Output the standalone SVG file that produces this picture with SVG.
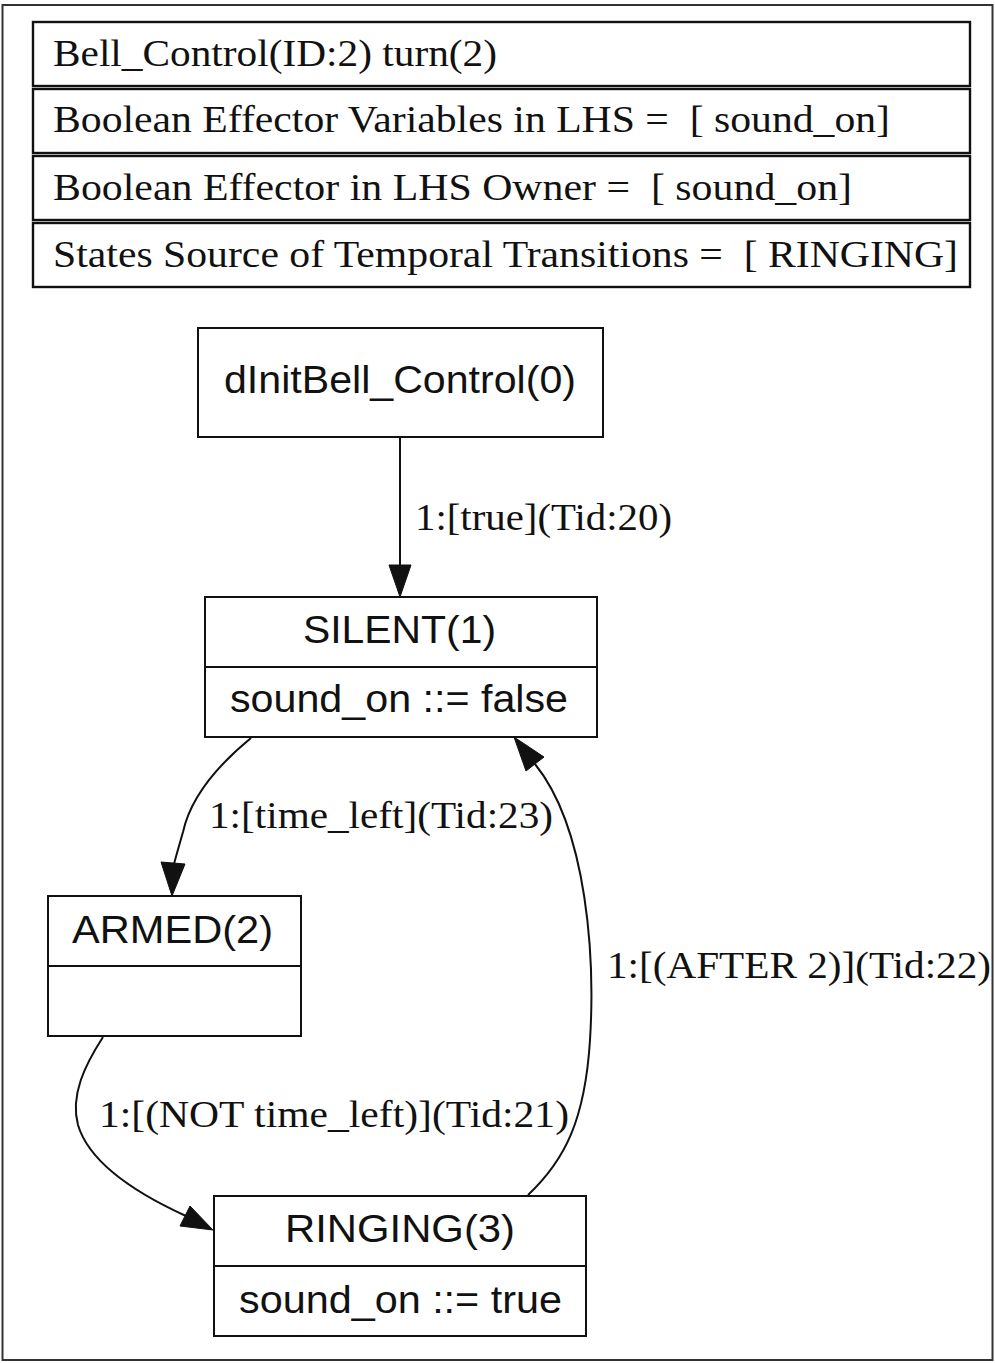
<svg xmlns="http://www.w3.org/2000/svg" width="995" height="1363" viewBox="0 0 995 1363">
  <style>
    .frame { fill: #ffffff; stroke: #333333; stroke-width: 2; }
    .cell { fill: #ffffff; stroke: #111111; stroke-width: 2.4; }
    .box { fill: #ffffff; stroke: #111111; stroke-width: 2; }
    .div { stroke: #111111; stroke-width: 2; }
    .edge { fill: none; stroke: #111111; stroke-width: 2; }
    .head { fill: #111111; stroke: #111111; stroke-width: 1; }
    .serif { font-family: "Liberation Serif", "Times New Roman", serif; font-size: 38px; fill: #111111; white-space: pre; }
    .sans { font-family: "Liberation Sans", Arial, sans-serif; font-size: 38px; fill: #111111; white-space: pre; }
  </style>

  <!-- outer frame -->
  <rect class="frame" x="2.5" y="5" width="990" height="1355"/>

  <!-- info table -->
  <g id="info">
    <rect class="cell" x="33" y="22" width="937" height="64"/>
    <rect class="cell" x="33" y="89" width="937" height="64"/>
    <rect class="cell" x="33" y="156" width="937" height="64"/>
    <rect class="cell" x="33" y="223" width="937" height="64"/>
    <text class="serif" x="53" y="66" textLength="444" lengthAdjust="spacingAndGlyphs">Bell_Control(ID:2) turn(2)</text>
    <text class="serif" x="53" y="132" textLength="837" lengthAdjust="spacingAndGlyphs">Boolean Effector Variables in LHS =  [ sound_on]</text>
    <text class="serif" x="53" y="200" textLength="799" lengthAdjust="spacingAndGlyphs">Boolean Effector in LHS Owner =  [ sound_on]</text>
    <text class="serif" x="53" y="267" textLength="905" lengthAdjust="spacingAndGlyphs">States Source of Temporal Transitions =  [ RINGING]</text>
  </g>

  <!-- connectors -->
  <g id="edges">
    <g id="e20">
      <path class="edge" d="M400,437 L400,566"/>
      <polygon class="head" points="400,597 389,565 411,565"/>
      <text class="serif" x="415" y="530" textLength="257" lengthAdjust="spacingAndGlyphs">1:[true](Tid:20)</text>
    </g>
    <g id="e23">
      <path class="edge" d="M251,738 C212,770 190,800 183,832 C179,846 176,856 174,864"/>
      <polygon class="head" points="172,896 161,862 185,864"/>
      <text class="serif" x="209" y="828" textLength="344" lengthAdjust="spacingAndGlyphs">1:[time_left](Tid:23)</text>
    </g>
    <g id="e21">
      <path class="edge" d="M103,1037 C85,1065 70,1095 78,1125 C90,1165 140,1195 186,1216"/>
      <polygon class="head" points="213,1230 180,1226 190,1206"/>
      <text class="serif" x="99" y="1127" textLength="470" lengthAdjust="spacingAndGlyphs">1:[(NOT time_left)](Tid:21)</text>
    </g>
    <g id="e22">
      <path class="edge" d="M528,1195 C565,1160 585,1120 590,1040 C595,960 588,830 535,764"/>
      <polygon class="head" points="514,737 544,757 526,771"/>
      <text class="serif" x="607" y="978" textLength="384" lengthAdjust="spacingAndGlyphs">1:[(AFTER 2)](Tid:22)</text>
    </g>
  </g>

  <!-- states -->
  <g id="n0">
    <rect class="box" x="198" y="328" width="405" height="109"/>
    <text class="sans" x="224" y="393" textLength="352" lengthAdjust="spacingAndGlyphs">dInitBell_Control(0)</text>
  </g>

  <g id="n1">
    <rect class="box" x="205" y="597" width="392" height="140"/>
    <line class="div" x1="205" y1="667" x2="597" y2="667"/>
    <text class="sans" x="303" y="643" textLength="193" lengthAdjust="spacingAndGlyphs">SILENT(1)</text>
    <text class="sans" x="230" y="712" textLength="338" lengthAdjust="spacingAndGlyphs">sound_on ::= false</text>
  </g>

  <g id="n2">
    <rect class="box" x="48" y="896" width="253" height="140"/>
    <line class="div" x1="48" y1="966" x2="301" y2="966"/>
    <text class="sans" x="72" y="943" textLength="201" lengthAdjust="spacingAndGlyphs">ARMED(2)</text>
  </g>

  <g id="n3">
    <rect class="box" x="214" y="1196" width="372" height="140"/>
    <line class="div" x1="214" y1="1266" x2="586" y2="1266"/>
    <text class="sans" x="285" y="1242" textLength="230" lengthAdjust="spacingAndGlyphs">RINGING(3)</text>
    <text class="sans" x="239" y="1313" textLength="323" lengthAdjust="spacingAndGlyphs">sound_on ::= true</text>
  </g>
</svg>
